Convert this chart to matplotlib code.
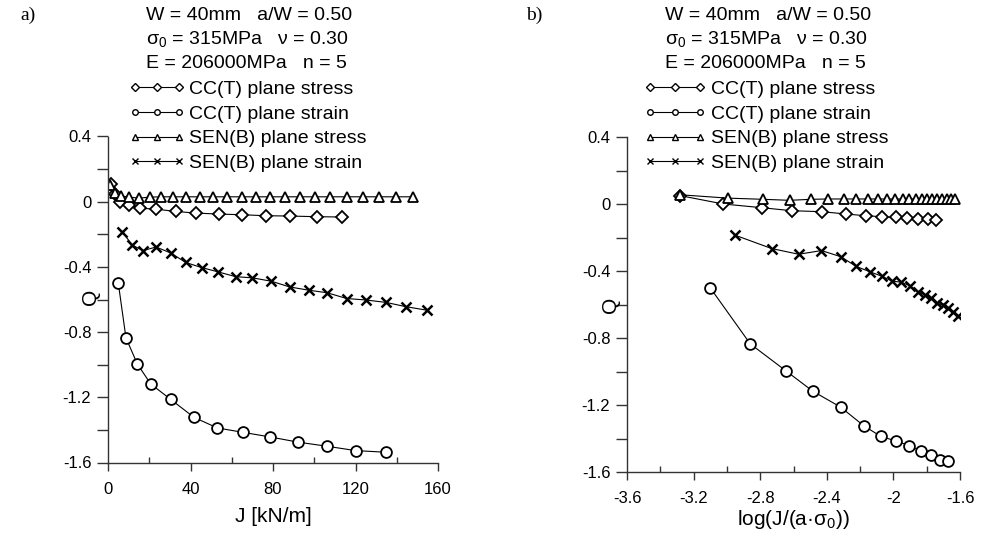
import numpy as np
import matplotlib
matplotlib.use("Agg")
import matplotlib.pyplot as plt
from matplotlib.lines import Line2D
from matplotlib.ticker import MultipleLocator, FormatStrFormatter

plt.rcParams['font.family'] = ['Liberation Sans', 'DejaVu Sans']
plt.rcParams['mathtext.fontset'] = 'custom'
plt.rcParams['mathtext.rm'] = 'Liberation Sans'
plt.rcParams['mathtext.it'] = 'Liberation Sans'

# specimen data
a_sigma0 = 0.020 * 315000.0   # a [m] * sigma0 [kPa] -> kN/m

# CC(T) plane stress
J_cct_stress = [1.3, 3.3, 6.0, 10.2, 15.4, 23.5, 32.9, 42.9, 54.0, 65.0, 76.5, 88.2, 101.2, 113.6]
Q_cct_stress = [0.11, 0.05, 0.0, -0.022, -0.04, -0.046, -0.06, -0.07, -0.076, -0.08, -0.086, -0.088, -0.092, -0.094]

# CC(T) plane strain
J_cct_strain = [5.0, 8.7, 14.2, 20.7, 30.4, 41.7, 53.0, 65.5, 78.5, 92.1, 106.0, 120.1, 134.8]
Q_cct_strain = [-0.5, -0.835, -0.995, -1.118, -1.213, -1.323, -1.388, -1.415, -1.443, -1.475, -1.5, -1.527, -1.537]

# SEN(B) plane stress
J_senb_stress = [1.0, 3.3, 6.4, 10.4, 15.0, 20.2, 25.6, 31.7, 37.7, 44.6, 51.1, 57.9, 64.8, 71.6,
                 78.5, 85.8, 93.1, 100.4, 107.6, 115.7, 123.8, 131.6, 139.6, 147.7]
Q_senb_stress = [0.10, 0.055, 0.035, 0.028, 0.022, 0.028, 0.03, 0.03, 0.03, 0.03, 0.03, 0.03, 0.03, 0.03,
                 0.03, 0.03, 0.03, 0.03, 0.03, 0.03, 0.03, 0.03, 0.03, 0.03]

# SEN(B) plane strain
J_senb_strain = [7.0, 11.7, 17.0, 23.3, 30.5, 37.7, 45.4, 53.5, 61.9, 70.0, 79.2, 88.1, 97.4,
                 106.4, 115.7, 125.1, 134.9, 144.4, 154.8]
Q_senb_strain = [-0.185, -0.266, -0.30, -0.278, -0.315, -0.373, -0.404, -0.431, -0.46, -0.467, -0.488,
                 -0.523, -0.543, -0.559, -0.594, -0.603, -0.618, -0.644, -0.666]

series = [
    (J_cct_stress, Q_cct_stress, 'D', 6.2, 1.3, "CC(T) plane stress"),
    (J_cct_strain, Q_cct_strain, 'o', 7.8, 1.3, "CC(T) plane strain"),
    (J_senb_stress, Q_senb_stress, '^', 7.2, 1.3, "SEN(B) plane stress"),
    (J_senb_strain, Q_senb_strain, 'x', 7.8, 1.8, "SEN(B) plane strain"),
]

header = ["W = 40mm   a/W = 0.50",
          "σ$_0$ = 315MPa   ν = 0.30",
          "E = 206000MPa   n = 5"]

fig = plt.figure(figsize=(9.82, 5.38), dpi=100)
W, H = 982.0, 538.0

ax_a = fig.add_axes([108 / W, 1 - 462.5 / H, 330 / W, 326 / H])
ax_b = fig.add_axes([627 / W, 1 - 472 / H, 333 / W, 335 / H])

FS = 14      # header / legend
TFS = 12     # tick labels
LFS = 15     # axis labels


def style_axes(ax):
    for s in ['top', 'right']:
        ax.spines[s].set_visible(False)
    for s in ['left', 'bottom']:
        ax.spines[s].set_linewidth(1.0)
        ax.spines[s].set_color('#333333')
    ax.tick_params(axis='y', which='both', direction='out', length=8, width=1.0,
                   color='#333333', labelsize=TFS, pad=4)
    ax.tick_params(axis='x', which='major', direction='out', length=6, width=1.0,
                   color='#333333', labelsize=TFS, pad=8)
    ax.tick_params(axis='x', which='minor', direction='in', length=4, width=1.0,
                   color='#333333')
    ax.yaxis.set_major_locator(MultipleLocator(0.4))
    ax.yaxis.set_minor_locator(MultipleLocator(0.2))
    ax.yaxis.set_major_formatter(FormatStrFormatter('%g'))
    ax.set_ylim(-1.6, 0.4)
    ax.set_ylabel("Q", fontsize=LFS)


def add_legend(ax, x0, y0, hl):
    handles = []
    for J, Q, mk, ms, mew, lab in series:
        handles.append(Line2D([], [], color='black', lw=0.8, marker=mk, markersize=4.0,
                              markerfacecolor='white', markeredgecolor='black',
                              markeredgewidth=1.0, label=lab))
    ax.legend(handles=handles, loc='upper left', bbox_to_anchor=(x0 / W, 1 - y0 / H),
              bbox_transform=fig.transFigure, frameon=False, fontsize=FS, numpoints=3,
              handlelength=hl, handletextpad=0.26, labelspacing=0.36,
              borderpad=0, borderaxespad=0)


# panel a)
for J, Q, mk, ms, mew, lab in series:
    ax_a.plot(J, Q, color='black', lw=0.8, marker=mk, markersize=ms,
              markerfacecolor='white', markeredgecolor='black', markeredgewidth=mew)
style_axes(ax_a)
ax_a.set_xlim(0, 160)
ax_a.xaxis.set_major_locator(MultipleLocator(40))
ax_a.xaxis.set_minor_locator(MultipleLocator(20))
ax_a.set_xlabel("J [kN/m]", fontsize=LFS, labelpad=7)
ax_a.yaxis.set_label_coords(-0.024, 0.508)
add_legend(ax_a, 129, 80.5, 2.85)

# panel b)
for J, Q, mk, ms, mew, lab in series:
    x = np.log10(np.array(J) / a_sigma0)
    q = np.array(Q)
    keep = x >= -3.6
    ax_b.plot(x[keep], q[keep], color='black', lw=0.8, marker=mk, markersize=ms,
              markerfacecolor='white', markeredgecolor='black', markeredgewidth=mew)
style_axes(ax_b)
ax_b.set_xlim(-3.6, -1.6)
ax_b.xaxis.set_major_locator(MultipleLocator(0.4))
ax_b.xaxis.set_minor_locator(MultipleLocator(0.2))
ax_b.xaxis.set_major_formatter(FormatStrFormatter('%g'))
ax_b.set_xlabel("log(J/(a·σ$_0$))", fontsize=LFS, labelpad=1)
ax_b.yaxis.set_label_coords(-0.021, 0.5)
add_legend(ax_b, 644, 80.5, 3.2)

# header text
for i, line in enumerate(header):
    fig.text(146 / W, 1 - (15 + 24 * i) / H, line, fontsize=FS, va='center', ha='left')
    fig.text(665 / W, 1 - (15 + 24 * i) / H, line, fontsize=FS, va='center', ha='left')

fig.text(20 / W, 1 - 15 / H, "a)", fontsize=14, family='Liberation Serif', va='center')
fig.text(526 / W, 1 - 15 / H, "b)", fontsize=14, family='Liberation Serif', va='center')

fig.savefig("out.png", dpi=100)
